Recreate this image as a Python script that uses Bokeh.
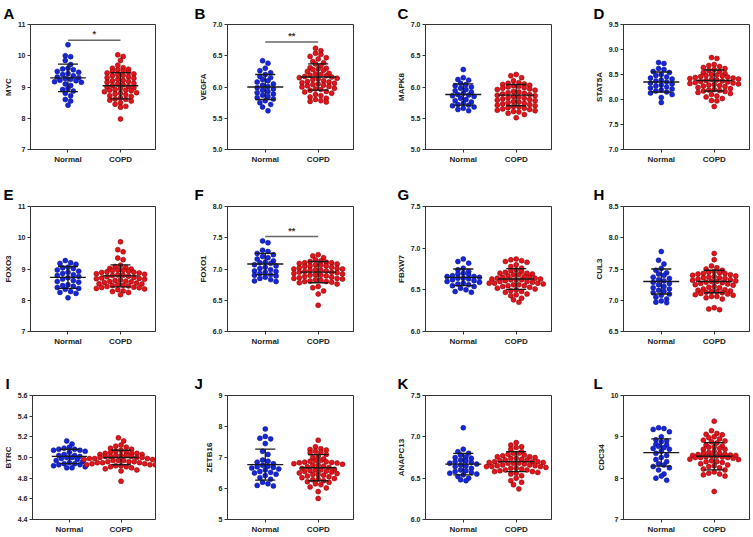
import numpy as np
from bokeh.plotting import figure
from bokeh.models import Range1d, FixedTicker, PrintfTickFormatter, Label, Title
from bokeh.layouts import column, row
from bokeh.embed import file_html
from bokeh.resources import INLINE

# ---------------- data ----------------
groups = ["Normal", "COPD"]
letters = ["A", "B", "C", "D", "E", "F", "G", "H", "I", "J", "K", "L"]
genes = ["MYC", "VEGFA", "MAPK8", "STAT5A", "FOXO3", "FOXO1",
         "FBXW7", "CUL3", "BTRC", "ZETB16", "ANAPC13", "CDC34"]

yticks_A = [7, 8, 9, 10, 11]
yticks_B = [5.0, 5.5, 6.0, 6.5, 7.0]
yticks_C = [5.0, 5.5, 6.0, 6.5, 7.0]
yticks_D = [7.0, 7.5, 8.0, 8.5, 9.0, 9.5]
yticks_E = [7, 8, 9, 10, 11]
yticks_F = [6.0, 6.5, 7.0, 7.5, 8.0]
yticks_G = [6.0, 6.5, 7.0, 7.5]
yticks_H = [6.5, 7.0, 7.5, 8.0, 8.5]
yticks_I = [4.4, 4.6, 4.8, 5.0, 5.2, 5.4, 5.6]
yticks_J = [5, 6, 7, 8, 9]
yticks_K = [6.0, 6.5, 7.0, 7.5]
yticks_L = [7, 8, 9, 10]

A_normal = [10.35, 10.0, 9.97, 9.85, 9.72, 9.6, 9.58, 9.55, 9.5, 9.47, 9.43, 9.4, 9.36, 9.32, 9.3, 9.27,
            9.25, 9.22, 9.2, 9.17, 9.15, 9.1, 9.05, 8.95, 8.92, 8.87, 8.8, 8.72, 8.6, 8.55, 8.42]
A_copd = [10.03, 9.98, 9.85, 9.7, 9.62, 9.6, 9.57, 9.55, 9.52, 9.5, 9.47, 9.45, 9.42, 9.4, 9.38, 9.36,
          9.33, 9.3, 9.28, 9.25, 9.22, 9.2, 9.18, 9.15, 9.12, 9.1, 9.07, 9.05, 9.02, 9.0, 8.98, 8.95,
          8.92, 8.9, 8.9, 8.88, 8.85, 8.82, 8.8, 8.78, 8.75, 8.72, 8.7, 8.65, 8.62, 8.6, 8.58, 8.55,
          8.5, 8.45, 8.38, 8.35, 7.98]
B_normal = [6.42, 6.38, 6.3, 6.26, 6.23, 6.2, 6.17, 6.15, 6.12, 6.1, 6.08, 6.05, 6.03, 6.01, 5.99,
            5.97, 5.95, 5.93, 5.91, 5.89, 5.87, 5.85, 5.83, 5.81, 5.78, 5.75, 5.72, 5.68, 5.62]
B_copd = [6.62, 6.58, 6.54, 6.52, 6.49, 6.47, 6.45, 6.41, 6.39, 6.37, 6.34, 6.31, 6.3, 6.29, 6.28,
          6.27, 6.25, 6.22, 6.21, 6.2, 6.19, 6.18, 6.17, 6.16, 6.15, 6.14, 6.13, 6.12, 6.1, 6.09, 6.08,
          6.07, 6.06, 6.05, 6.04, 6.03, 6.02, 6.01, 6.0, 5.98, 5.97, 5.96, 5.95, 5.93, 5.92, 5.9, 5.88,
          5.86, 5.84, 5.82, 5.8, 5.78, 5.77, 5.76]
C_normal = [6.28, 6.15, 6.12, 6.11, 6.06, 6.04, 6.02, 6.0, 5.98, 5.96, 5.94, 5.92, 5.9, 5.88, 5.87,
            5.86, 5.85, 5.82, 5.8, 5.78, 5.76, 5.74, 5.72, 5.71, 5.7, 5.68, 5.66, 5.64, 5.62]
C_copd = [6.2, 6.18, 6.15, 6.1, 6.07, 6.06, 6.05, 6.04, 6.03, 6.02, 6.01, 6.0, 5.99, 5.98, 5.97, 5.96,
          5.95, 5.93, 5.92, 5.91, 5.9, 5.89, 5.88, 5.87, 5.86, 5.85, 5.84, 5.83, 5.82, 5.81, 5.8, 5.79,
          5.78, 5.77, 5.76, 5.75, 5.74, 5.73, 5.72, 5.71, 5.7, 5.69, 5.68, 5.67, 5.66, 5.65, 5.64, 5.63,
          5.62, 5.61, 5.6, 5.58, 5.56, 5.51]
D_normal = [8.74, 8.72, 8.62, 8.6, 8.56, 8.54, 8.5, 8.48, 8.45, 8.43, 8.41, 8.39, 8.37, 8.35, 8.33,
            8.31, 8.29, 8.27, 8.25, 8.23, 8.21, 8.19, 8.17, 8.15, 8.13, 8.1, 8.04, 7.94]
D_copd = [8.84, 8.82, 8.7, 8.68, 8.66, 8.64, 8.62, 8.6, 8.58, 8.56, 8.54, 8.52, 8.5, 8.49, 8.48, 8.47,
          8.46, 8.45, 8.44, 8.43, 8.42, 8.41, 8.4, 8.39, 8.38, 8.37, 8.36, 8.35, 8.34, 8.33, 8.32, 8.31,
          8.3, 8.29, 8.28, 8.27, 8.26, 8.24, 8.22, 8.2, 8.19, 8.18, 8.17, 8.16, 8.14, 8.12, 8.1, 8.07,
          8.05, 8.02, 7.98, 7.97, 7.86]
E_normal = [9.27, 9.2, 9.18, 9.15, 9.06, 9.04, 9.02, 8.97, 8.93, 8.9, 8.86, 8.82, 8.79, 8.76, 8.72,
            8.68, 8.63, 8.6, 8.58, 8.5, 8.47, 8.45, 8.41, 8.38, 8.35, 8.28, 8.25, 8.22, 8.08]
E_copd = [9.87, 9.62, 9.55, 9.35, 9.3, 9.12, 9.08, 9.05, 9.02, 9.0, 8.97, 8.96, 8.95, 8.93, 8.91, 8.9,
          8.89, 8.87, 8.85, 8.83, 8.81, 8.8, 8.79, 8.77, 8.75, 8.73, 8.71, 8.7, 8.69, 8.67, 8.65, 8.63,
          8.61, 8.6, 8.59, 8.57, 8.55, 8.53, 8.52, 8.5, 8.48, 8.47, 8.46, 8.44, 8.42, 8.41, 8.4, 8.38,
          8.36, 8.34, 8.3, 8.28, 8.25, 8.18]
F_normal = [7.45, 7.42, 7.3, 7.28, 7.25, 7.23, 7.2, 7.18, 7.16, 7.13, 7.11, 7.1, 7.09, 7.07, 7.05,
            7.03, 7.01, 6.99, 6.97, 6.96, 6.95, 6.93, 6.91, 6.9, 6.89, 6.87, 6.85, 6.83, 6.81, 6.8]
F_copd = [7.23, 7.21, 7.18, 7.15, 7.13, 7.12, 7.11, 7.1, 7.1, 7.09, 7.08, 7.07, 7.06, 7.05, 7.05, 7.04,
          7.03, 7.02, 7.01, 7.0, 7.0, 6.99, 6.98, 6.98, 6.97, 6.96, 6.95, 6.95, 6.94, 6.93, 6.92, 6.91,
          6.9, 6.9, 6.89, 6.88, 6.87, 6.86, 6.85, 6.85, 6.84, 6.83, 6.82, 6.81, 6.8, 6.8, 6.79, 6.78,
          6.76, 6.72, 6.7, 6.65, 6.6, 6.42]
G_normal = [6.87, 6.84, 6.82, 6.76, 6.74, 6.72, 6.7, 6.69, 6.68, 6.67, 6.66, 6.66, 6.65, 6.64, 6.64,
            6.63, 6.62, 6.61, 6.6, 6.59, 6.58, 6.57, 6.56, 6.55, 6.54, 6.52, 6.5, 6.48, 6.47]
G_copd = [6.87, 6.86, 6.85, 6.84, 6.83, 6.8, 6.78, 6.76, 6.74, 6.73, 6.72, 6.71, 6.7, 6.7, 6.69, 6.68,
          6.68, 6.67, 6.66, 6.65, 6.65, 6.64, 6.64, 6.63, 6.63, 6.62, 6.62, 6.62, 6.61, 6.6, 6.6, 6.59,
          6.58, 6.58, 6.58, 6.57, 6.56, 6.56, 6.55, 6.55, 6.54, 6.53, 6.52, 6.51, 6.5, 6.49, 6.48, 6.47,
          6.45, 6.44, 6.43, 6.4, 6.38, 6.35]
H_normal = [7.78, 7.64, 7.58, 7.51, 7.48, 7.44, 7.42, 7.4, 7.37, 7.35, 7.33, 7.31, 7.29, 7.27, 7.25,
            7.22, 7.2, 7.18, 7.16, 7.14, 7.12, 7.1, 7.08, 7.05, 7.02, 6.99, 6.97, 6.96]
H_copd = [7.75, 7.65, 7.55, 7.52, 7.5, 7.48, 7.46, 7.45, 7.44, 7.43, 7.43, 7.42, 7.41, 7.4, 7.39, 7.38,
          7.37, 7.36, 7.36, 7.35, 7.34, 7.33, 7.32, 7.31, 7.3, 7.3, 7.29, 7.28, 7.27, 7.26, 7.25, 7.24,
          7.22, 7.21, 7.2, 7.18, 7.17, 7.16, 7.15, 7.14, 7.14, 7.13, 7.12, 7.11, 7.1, 7.09, 7.08, 7.06,
          7.06, 7.04, 7.02, 6.88, 6.86, 6.85]
I_normal = [5.16, 5.13, 5.1, 5.09, 5.08, 5.08, 5.07, 5.07, 5.06, 5.05, 5.03, 5.02, 5.02, 5.01, 5.0,
            5.0, 4.99, 4.98, 4.97, 4.96, 4.95, 4.94, 4.94, 4.93, 4.93, 4.92, 4.91, 4.9, 4.9]
I_copd = [5.19, 5.16, 5.12, 5.11, 5.1, 5.09, 5.08, 5.07, 5.06, 5.05, 5.05, 5.04, 5.04, 5.04, 5.03,
          5.03, 5.02, 5.02, 5.02, 5.01, 5.01, 5.01, 5.0, 5.0, 5.0, 4.99, 4.99, 4.99, 4.98, 4.98, 4.98,
          4.97, 4.97, 4.97, 4.96, 4.96, 4.96, 4.95, 4.95, 4.95, 4.94, 4.94, 4.93, 4.93, 4.93, 4.92,
          4.92, 4.91, 4.91, 4.9, 4.89, 4.88, 4.87, 4.77]
J_normal = [7.92, 7.68, 7.62, 7.6, 7.45, 7.2, 7.1, 6.92, 6.88, 6.85, 6.8, 6.75, 6.72, 6.7, 6.68, 6.66,
            6.63, 6.6, 6.55, 6.52, 6.5, 6.46, 6.42, 6.35, 6.3, 6.2, 6.15, 6.1, 6.08]
J_copd = [7.56, 7.35, 7.28, 7.26, 7.24, 7.2, 7.17, 7.15, 7.1, 7.05, 7.0, 6.95, 6.9, 6.9, 6.88, 6.86,
          6.85, 6.84, 6.83, 6.82, 6.8, 6.78, 6.75, 6.75, 6.72, 6.7, 6.68, 6.65, 6.62, 6.6, 6.6, 6.58,
          6.56, 6.55, 6.53, 6.5, 6.48, 6.45, 6.45, 6.43, 6.4, 6.38, 6.35, 6.32, 6.3, 6.28, 6.25, 6.22,
          6.2, 6.15, 6.12, 6.05, 6.02, 5.9, 5.68]
K_normal = [7.11, 6.85, 6.82, 6.8, 6.78, 6.76, 6.75, 6.74, 6.72, 6.71, 6.7, 6.69, 6.68, 6.67, 6.66,
            6.65, 6.64, 6.62, 6.6, 6.59, 6.58, 6.57, 6.56, 6.55, 6.54, 6.52, 6.5, 6.48, 6.47]
K_copd = [6.93, 6.9, 6.88, 6.87, 6.85, 6.82, 6.8, 6.8, 6.79, 6.78, 6.77, 6.76, 6.76, 6.75, 6.74, 6.74,
          6.73, 6.72, 6.72, 6.71, 6.7, 6.7, 6.7, 6.69, 6.69, 6.68, 6.68, 6.68, 6.67, 6.66, 6.66, 6.65,
          6.65, 6.64, 6.64, 6.64, 6.63, 6.62, 6.62, 6.61, 6.6, 6.6, 6.59, 6.58, 6.58, 6.57, 6.56, 6.55,
          6.53, 6.5, 6.47, 6.45, 6.42, 6.37]
L_normal = [9.22, 9.2, 9.18, 9.12, 9.0, 8.93, 8.9, 8.88, 8.82, 8.8, 8.77, 8.74, 8.72, 8.7, 8.65, 8.6,
            8.55, 8.5, 8.45, 8.4, 8.35, 8.32, 8.28, 8.25, 8.2, 8.1, 8.05, 8.0, 7.95]
L_copd = [9.38, 9.15, 9.08, 9.06, 9.05, 9.0, 8.98, 8.95, 8.92, 8.9, 8.88, 8.85, 8.8, 8.78, 8.76, 8.75,
          8.72, 8.7, 8.7, 8.65, 8.62, 8.6, 8.6, 8.58, 8.57, 8.56, 8.55, 8.55, 8.54, 8.53, 8.52, 8.51,
          8.5, 8.5, 8.5, 8.48, 8.46, 8.45, 8.42, 8.4, 8.4, 8.38, 8.35, 8.32, 8.3, 8.28, 8.25, 8.22, 8.2,
          8.15, 8.12, 8.1, 8.08, 8.05, 7.68]

# mean and SD (Normal, COPD)
means = [[9.29, 9.04], [6.00, 6.16], [5.88, 5.87], [8.35, 8.38], [8.73, 8.78], [7.08, 6.95],
         [6.65, 6.63], [7.30, 7.30], [5.01, 5.00], [6.77, 6.67], [6.67, 6.70], [8.62, 8.53]]
sds = [[0.44, 0.42], [0.20, 0.21], [0.17, 0.17], [0.20, 0.21], [0.35, 0.35], [0.17, 0.17],
       [0.10, 0.125], [0.20, 0.18], [0.07, 0.07], [0.50, 0.42], [0.13, 0.12], [0.33, 0.33]]

# significance brackets: panel index -> (y level, stars)
sig_panels = [0, 1, 5]
sig_levels = [10.5, 6.72, 7.52]
sig_stars = ["*", "**", "**"]

normal_sets = [A_normal, B_normal, C_normal, D_normal, E_normal, F_normal,
               G_normal, H_normal, I_normal, J_normal, K_normal, L_normal]
copd_sets = [A_copd, B_copd, C_copd, D_copd, E_copd, F_copd,
             G_copd, H_copd, I_copd, J_copd, K_copd, L_copd]
ytick_sets = [yticks_A, yticks_B, yticks_C, yticks_D, yticks_E, yticks_F,
              yticks_G, yticks_H, yticks_I, yticks_J, yticks_K, yticks_L]

# ---------------- layout / style ----------------
FONT = "Liberation Sans"
col_widths = [193, 198, 198, 163]
col_lefts = [29, 34, 34, 34]
row_heights = [180, 189, 167]
row_tops = [22, 24, 24]
row_frames = [127, 127, 127]
title_standoff = [5, 7, 7]
FRAME_W = 126
letter_dx = [-27, -33, -28, -30]
XS, XE = 0.286, 2.667
xpos = [1, 2]
fills = ["#1428d8", "#e4141c"]
lines = ["#0a0a80", "#7a0000"]
DOT = 5.0
SPACING = 5.4
BIN_H = 4.6


def row_offsets(vals, ppu_y):
    """GraphPad-like column scatter: points in the same y bin are lined up horizontally."""
    vals = np.asarray(vals, float)
    ys = vals * ppu_y
    order = np.argsort(-vals, kind="stable")
    xs = np.zeros(len(vals))
    i = 0
    while i < len(order):
        start = ys[order[i]]
        members = [order[i]]
        j = i + 1
        while j < len(order) and start - ys[order[j]] < BIN_H:
            members.append(order[j])
            j += 1
        n = len(members)
        slots = sorted(range(n), key=lambda s: abs(s - (n - 1) / 2.0))
        for k, m in enumerate(members):
            xs[m] = (slots[k] - (n - 1) / 2.0) * SPACING
        i = j
    return xs


def make_panel(idx):
    r, c = divmod(idx, 4)
    W, H = col_widths[c], row_heights[r]
    fh = row_frames[r]
    L = col_lefts[c]
    ticks = ytick_sets[idx]
    ylo, yhi = ticks[0], ticks[-1]
    p = figure(width=W, height=H, output_backend="svg", toolbar_location=None, title=None,
               x_range=Range1d(XS, XE), y_range=Range1d(ylo, yhi),
               min_border_left=L, min_border_right=W - L - FRAME_W,
               min_border_top=row_tops[r], min_border_bottom=H - row_tops[r] - fh)
    p.xgrid.visible = False
    p.ygrid.visible = False
    p.outline_line_color = "#333333"
    p.outline_line_width = 1
    p.outline_line_alpha = 1
    p.background_fill_color = "white"
    p.border_fill_color = "white"

    for ax in (p.xaxis[0], p.yaxis[0]):
        ax.axis_line_color = "#333333"
        ax.major_tick_line_color = "#333333"
        ax.major_tick_out = 3
        ax.major_tick_in = 0
        ax.minor_tick_out = 0
        ax.minor_tick_in = 0
        ax.major_label_text_font = FONT
        ax.major_label_text_font_style = "bold"
        ax.major_label_text_color = "#222222"
        ax.major_label_standoff = 2
    p.xaxis.ticker = FixedTicker(ticks=xpos)
    p.xaxis.major_label_overrides = {xpos[0]: groups[0], xpos[1]: groups[1]}
    p.xaxis.major_label_text_font_size = "8px"
    p.yaxis.ticker = FixedTicker(ticks=ticks)
    if all(float(t).is_integer() for t in ticks):
        p.yaxis.formatter = PrintfTickFormatter(format="%d")
    else:
        p.yaxis.formatter = PrintfTickFormatter(format="%.1f")
    p.yaxis.major_label_text_font_size = "7px"
    p.yaxis.axis_label = genes[idx]
    p.yaxis.axis_label_text_font = FONT
    p.yaxis.axis_label_text_font_size = "8px"
    p.yaxis.axis_label_text_font_style = "bold"
    p.yaxis.axis_label_text_color = "#222222"
    p.yaxis.axis_label_standoff = 2

    ppu_x = FRAME_W / (XE - XS)
    ppu_y = fh / (yhi - ylo)
    for g, vals in enumerate([normal_sets[idx], copd_sets[idx]]):
        off = row_offsets(vals, ppu_y) / ppu_x
        p.scatter(x=xpos[g] + off, y=vals, size=DOT, fill_color=fills[g],
                  line_color=lines[g], line_width=0.5)
    for g in range(2):
        m, s = means[idx][g], sds[idx][g]
        x0 = xpos[g]
        p.segment(x0=[x0 - 0.34, x0 - 0.19, x0 - 0.19, x0], x1=[x0 + 0.34, x0 + 0.19, x0 + 0.19, x0],
                  y0=[m, m + s, m - s, m - s], y1=[m, m + s, m - s, m + s],
                  line_color="#1a1a1a", line_width=1.3)
    if idx in sig_panels:
        k = sig_panels.index(idx)
        yb = sig_levels[k]
        p.segment(x0=[xpos[0]], x1=[xpos[1]], y0=[yb], y1=[yb], line_color="#666666", line_width=1.5)
        p.add_layout(Label(x=(xpos[0] + xpos[1]) / 2, y=yb, y_offset=1, text=sig_stars[k],
                           text_align="center", text_baseline="bottom", text_font=FONT,
                           text_font_size="9px", text_font_style="bold", text_color="#333333"))
    p.add_layout(Title(text=letters[idx], align="left", offset=letter_dx[c], standoff=title_standoff[r],
                       text_font=FONT, text_font_size="15px", text_font_style="bold",
                       text_color="black"), "above")
    return p


panels = [make_panel(i) for i in range(12)]
layout = column(row(*panels[0:4]), row(*panels[4:8]), row(*panels[8:12]))

open("out.html", "w").write(file_html(layout, INLINE))
